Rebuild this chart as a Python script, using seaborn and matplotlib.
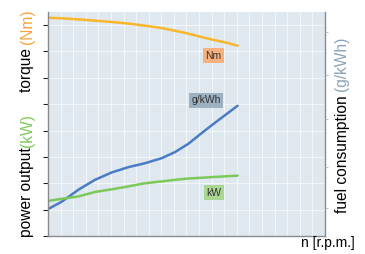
import pandas as pd
import numpy as np
import seaborn as sns
import matplotlib.pyplot as plt

# engine speed positions (grid units, the chart has no tick labels)
speed = [0, 1.09, 2.40, 3.73, 5.06, 6.37, 7.70, 9.02, 10.08, 11.13, 12.20, 13.25, 14.31, 15.06]

# torque (Nm), power (kW), fuel consumption (g/kWh)
torque = [8.28, 8.26, 8.22, 8.17, 8.12, 8.06, 7.98, 7.89, 7.79, 7.68, 7.55, 7.43, 7.32, 7.22]
power = [1.33, 1.41, 1.50, 1.67, 1.77, 1.88, 2.00, 2.07, 2.13, 2.18, 2.21, 2.24, 2.27, 2.29]
fuel = [1.02, 1.30, 1.75, 2.13, 2.41, 2.61, 2.76, 2.95, 3.18, 3.49, 3.90, 4.29, 4.67, 4.94]

df = pd.DataFrame({'speed': speed, 'torque': torque, 'power': power, 'fuel': fuel})

sns.set_style('white')
plt.rcParams['font.family'] = ['Liberation Sans', 'DejaVu Sans']

fig = plt.figure(figsize=(3.65, 2.54), dpi=100)
ax = fig.add_axes([0.1315, 0.0709, 0.7585, 0.882])
ax.set_facecolor('#dee8ee')

sns.lineplot(data=df, x='speed', y='torque', ax=ax, color='#f9b52c', lw=1.8)
sns.lineplot(data=df, x='speed', y='fuel', ax=ax, color='#4a7bc4', lw=1.8)
sns.lineplot(data=df, x='speed', y='power', ax=ax, color='#7dc85a', lw=1.8)

ax.set_xlim(0, 22)
ax.set_ylim(0, 8.5)
ax.set_xticks(np.arange(0, 23, 1))
ax.set_yticks(np.arange(0, 9, 1))
ax.grid(True, color='white', lw=0.8, alpha=0.65)
ax.tick_params(left=False, bottom=False, labelleft=False, labelbottom=False)
ax.set_xlabel('')
ax.set_ylabel('')
for s in ['left', 'bottom', 'right']:
    ax.spines[s].set_visible(True)
    ax.spines[s].set_color('#8a8a8a')
    ax.spines[s].set_linewidth(1.0)
ax.spines['top'].set_visible(False)

# faint little ticks on the right spine
ax2 = ax.twinx()
ax2.set_ylim(0, 8.5)
ax2.set_yticks([1.05, 2.6, 4.45, 6.1, 7.75])
ax2.tick_params(axis='y', length=2, width=0.6, color='#b8b8b8', labelright=False, right=True)
for s in ax2.spines.values():
    s.set_visible(False)

# series tags
tag = dict(transform=ax.transAxes, ha='center', va='center', fontsize=7.5, color='#333333')
ax.text(0.598, 0.805, 'Nm', bbox=dict(boxstyle='square,pad=0.25', fc='#f8b07f', ec='none'), **tag)
ax.text(0.571, 0.605, 'g/kWh', bbox=dict(boxstyle='square,pad=0.25', fc='#9db1c2', ec='none'), **tag)
ax.text(0.600, 0.193, 'kW', bbox=dict(boxstyle='square,pad=0.25', fc='#a9d690', ec='none'), **tag)

# axis titles with coloured units, pieces placed one after another
renderer = fig.canvas.get_renderer()

def vlabel(x_px, y_px, pieces, size=11.2):
    y = (254 - y_px) / 254
    for txt, col in pieces:
        t = fig.text(x_px / 365, y, txt, rotation=90, ha='center', va='bottom',
                     fontsize=size, color=col)
        bb = t.get_window_extent(renderer)
        y = bb.y1 / fig.bbox.height

vlabel(27, 92, [('torque ', 'black'), ('(Nm)', '#f9a23c')])
vlabel(27, 237, [('power output', 'black'), ('(kW)', '#7dc85a')])
vlabel(342, 213, [('fuel consumption ', 'black'), ('(g/kWh)', '#8aa3b8')])
fig.text(355 / 365, (254 - 243) / 254, 'n [r.p.m.]', ha='right', va='center', fontsize=10, color='black')

fig.savefig('out.png', dpi=100)
